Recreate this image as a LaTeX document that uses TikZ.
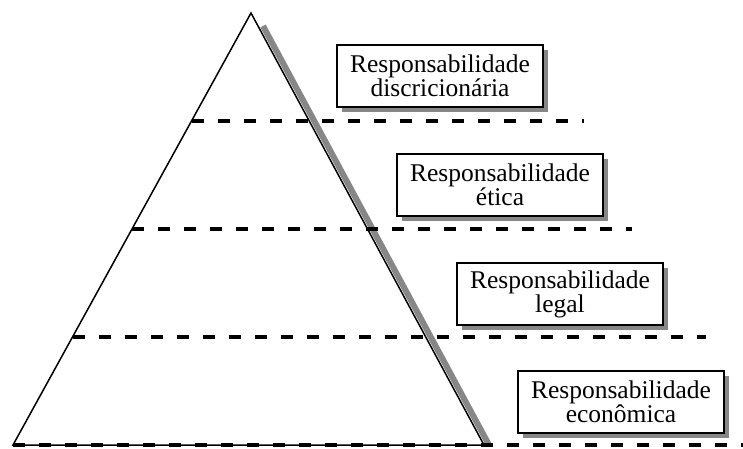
\documentclass[tikz,border=0pt]{standalone}
\usepackage{fontspec}
\setmainfont{Liberation Serif}
\usepackage{xcolor}
\usepackage{tikz}
\usetikzlibrary{positioning,calc,shadows}
\definecolor{RSgray}{RGB}{135,135,135}
\tikzstyle{rbox}  = [rectangle, draw, line width=1.4pt, fill=white,
                     minimum width=206pt, minimum height=62pt,
                     align=center, inner sep=2pt,
                     font=\fontsize{25.5}{23}\selectfont,
                     drop shadow={shadow xshift=5pt, shadow yshift=-5pt,
                                  fill=RSgray, opacity=1}]
\tikzstyle{lvl}   = [line width=3.2pt, dash pattern=on 12pt off 14pt]
\tikzstyle{pyr}   = [line width=1.5pt]
\tikzstyle{pshad} = [line width=6pt, RSgray]

\begin{document}
\begin{tikzpicture}[x=1pt, y=-1pt]
  \useasboundingbox (0,0) rectangle (743,448);

  % pyramid corners
  \coordinate (top) at (251,13);
  \coordinate (bl)  at (13,445);
  \coordinate (br)  at (484,445);

  % shadow along the right side
  \draw[pshad] ($(top)!0.03!(br)+(5,0)$) -- ($(br)+(5,0)$);
  \draw[pyr, fill=white] (top) -- (bl) -- (br) -- cycle;

  % level lines
  \coordinate (lv1) at ($(top)!0.25!(bl)$);
  \coordinate (lv2) at ($(top)!0.50!(bl)$);
  \coordinate (lv3) at ($(top)!0.75!(bl)$);
  \draw[lvl] (lv1) -- ++(392,0);
  \draw[lvl] (lv2) -- ++(500,0);
  \draw[lvl] (lv3) -- ++(633,0);
  \draw[lvl] (bl)  -- ++(730,0);

  % labels
  \node[rbox] (disc) at (440,76)  {Responsabilidade\\discricionária};
  \node[rbox] (etic) at (500,185) {Responsabilidade\\ética};
  \node[rbox] (legl) at (560,294) {Responsabilidade\\legal};
  \node[rbox] (econ) at (621,402) {Responsabilidade\\econômica};
\end{tikzpicture}
\end{document}
